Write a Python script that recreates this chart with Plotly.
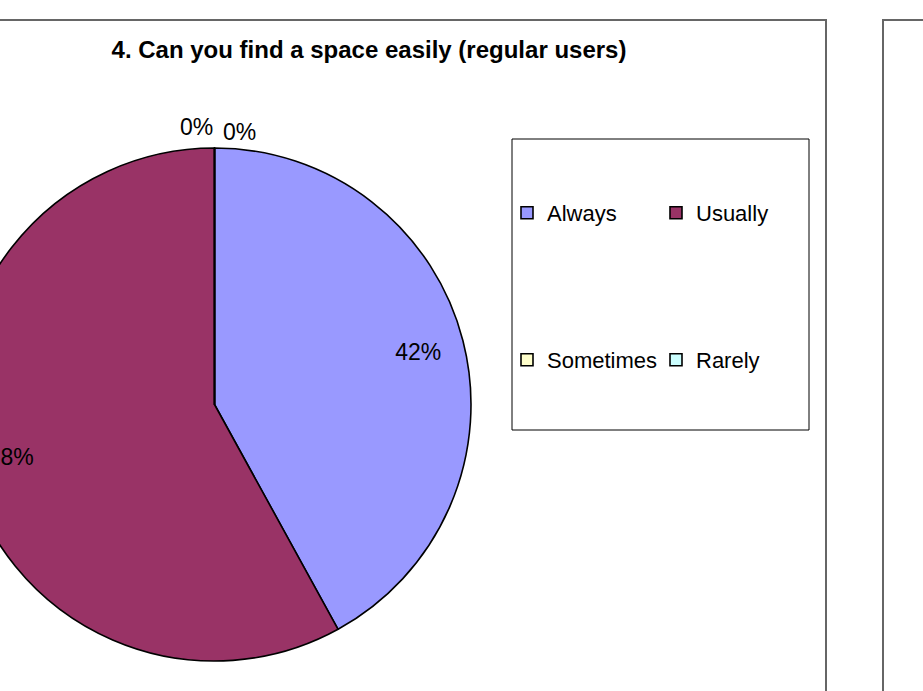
import math
import plotly.graph_objects as go

# ---- data ----
categories = ["Always", "Usually", "Sometimes", "Rarely"]
shares = [42, 58, 0, 0]
slice_colors = ["#9999FF", "#993366", "#FFFFCC", "#CCFFFF"]
title_text = "4. Can you find a space easily (regular users)"

# ---- layout constants (pixels) ----
SHIFT = 50                 # page is shifted left so the pie may run off the left edge
W, H = 923 + SHIFT, 691
FONT = "Liberation Sans, Arial, sans-serif"

def px(x):  # screen x -> paper x
    return (x + SHIFT) / W

def py(y):  # screen y -> paper y
    return 1 - y / H

cx, cy, r = 214.5, 404.5, 256.5
dom = dict(x=[px(cx - r), px(cx + r)], y=[py(cy + r), py(cy - r)])

total = sum(shares)
pct_text = ["%d%%" % round(100 * v / total) for v in shares]

fig = go.Figure()

# main pie (slices)
fig.add_trace(go.Pie(
    labels=categories, values=shares, sort=False, direction="clockwise", rotation=0,
    marker=dict(colors=slice_colors, line=dict(color="black", width=1.6)),
    textinfo="none", domain=dom, showlegend=False, hoverinfo="label+percent",
))

# transparent ring overlay used only to place the non-zero percentage labels near the rim
fig.add_trace(go.Pie(
    labels=categories, values=shares, sort=False, direction="clockwise", rotation=0,
    hole=0.64,
    marker=dict(colors=["rgba(0,0,0,0)"] * len(categories), line=dict(width=0)),
    text=[t if v > 0 else "" for t, v in zip(pct_text, shares)],
    textinfo="text", textposition="inside",
    insidetextorientation="horizontal",
    textfont=dict(family=FONT, size=23, color="black"),
    domain=dom, showlegend=False, hoverinfo="skip",
))

# zero-share labels sit just outside the rim at the slice angle, side by side
annotations = []
cum = 0
side_offsets = [(-18, -21), (25, -16)]
k = 0
for v, t in zip(shares, pct_text):
    start = cum
    cum += v
    if v == 0:
        ang = 2 * math.pi * start / total
        bx = cx + r * math.sin(ang)
        by = cy - r * math.cos(ang)
        ox, oy = side_offsets[k % 2]
        k += 1
        annotations.append(dict(
            text=t, x=px(bx + ox), y=py(by + oy), xref="paper", yref="paper",
            xanchor="center", yanchor="middle", showarrow=False,
            font=dict(family=FONT, size=23, color="black"),
        ))

# legend entries (two rows, as in the reference)
for i, (name, col) in enumerate(zip(categories, slice_colors)):
    fig.add_trace(go.Scatter(
        x=[None], y=[None], mode="markers", name=name,
        marker=dict(symbol="square", size=12, color=col, line=dict(color="black", width=1.6)),
        legend="legend" if i < 2 else "legend2", hoverinfo="skip",
    ))

legend_common = dict(
    orientation="h", entrywidth=104, entrywidthmode="pixels",
    font=dict(family=FONT, size=22, color="black"),
    bgcolor="rgba(0,0,0,0)", borderwidth=0,
    xref="paper", yref="paper", xanchor="left", yanchor="middle",
    itemclick=False, itemdoubleclick=False,
)

fig.update_layout(
    width=W, height=H,
    margin=dict(l=0, r=0, t=0, b=0, autoexpand=False),
    paper_bgcolor="white", plot_bgcolor="white",
    xaxis=dict(visible=False), yaxis=dict(visible=False),
    title=dict(text=title_text, x=px(369), y=py(50), xref="paper", yref="paper",
               xanchor="center", yanchor="middle",
               font=dict(family=FONT, size=24, color="black", weight="bold")),
    legend=dict(x=px(507), y=py(213), **legend_common),
    legend2=dict(x=px(507), y=py(360), **legend_common),
    annotations=annotations,
    shapes=[
        # outer chart frame (runs off the left and bottom edges)
        dict(type="rect", xref="paper", yref="paper", x0=px(-45), x1=px(826),
             y0=py(20), y1=py(760), line=dict(color="#666666", width=2)),
        # neighbouring chart frame on the right
        dict(type="rect", xref="paper", yref="paper", x0=px(883), x1=px(1000),
             y0=py(20), y1=py(760), line=dict(color="#666666", width=2)),
        # legend box
        dict(type="rect", xref="paper", yref="paper", x0=px(512), x1=px(809),
             y0=py(430), y1=py(139), line=dict(color="black", width=1)),
    ],
)

post = ("var d=document.getElementById('{plot_id}');"
        "d.style.marginLeft='-%dpx';"
        "document.body.style.margin='0';"
        "document.body.style.overflow='hidden';" % SHIFT)

fig.write_html("out.html", post_script=post, config={"displayModeBar": False})
